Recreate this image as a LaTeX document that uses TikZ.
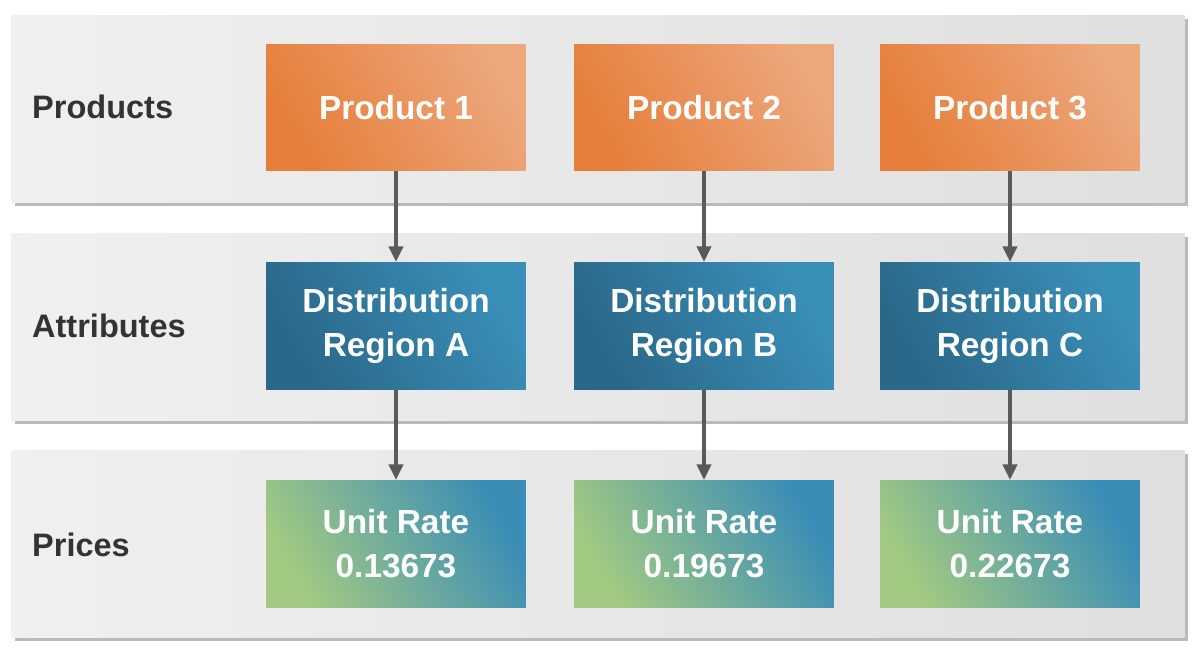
\documentclass[tikz,border=0pt]{standalone}
\usepackage{fontspec}
\setmainfont{Liberation Sans}
\usetikzlibrary{positioning,arrows.meta,shadows}

\definecolor{txtgray}{HTML}{333333}
\definecolor{arrgray}{HTML}{5A5A5A}
\definecolor{orA}{HTML}{E67E3A}
\definecolor{orB}{HTML}{ECA77C}
\definecolor{blA}{HTML}{2A6788}
\definecolor{blB}{HTML}{3A8FB8}
\definecolor{grA}{HTML}{A3CA82}
\definecolor{grB}{HTML}{3A8DB6}

\begin{document}
\begin{tikzpicture}[x=0.02cm,y=-0.02cm,
  band/.style={draw=none,minimum width=23.46cm,minimum height=3.76cm,
    left color=gray!12,right color=gray!25,
    drop shadow={shadow xshift=2pt,shadow yshift=-2pt,fill=black!45,opacity=0.6}},
  rowlabel/.style={anchor=west,text=txtgray,font=\fontsize{18.5}{22}\selectfont\bfseries},
  box/.style={minimum width=5.2cm,minimum height=2.54cm,align=center,
    text=white,font=\fontsize{19}{25}\selectfont\bfseries},
  prod/.style={box,left color=orA,right color=orB,shading angle=120},
  attr/.style={box,left color=blA,right color=blB,shading angle=120},
  price/.style={box,left color=grA,right color=grB,shading angle=120},
  link/.style={-{Triangle[length=9pt,width=8pt]},line width=2.5pt,draw=arrgray}]
\useasboundingbox (0,0) rectangle (1198,652);
% bands
\node[band] (bandP) at (598,109) {};
\node[band] (bandA) at (598,327) {};
\node[band] (bandR) at (598,544) {};
% row labels
\node[rowlabel] (lblP) at (26,107) {Products};
\node[rowlabel] (lblA) at (26,326) {Attributes};
\node[rowlabel] (lblR) at (26,545) {Prices};
% boxes
\node[prod] (p1) at (396,107.5) {Product 1};
\node[prod] (p2) at (704,107.5) {Product 2};
\node[prod] (p3) at (1010,107.5) {Product 3};
\node[attr] (a1) at (396,326) {Distribution\\Region A};
\node[attr] (a2) at (704,326) {Distribution\\Region B};
\node[attr] (a3) at (1010,326) {Distribution\\Region C};
\node[price] (r1) at (396,544) {Unit Rate\\0.13673};
\node[price] (r2) at (704,544) {Unit Rate\\0.19673};
\node[price] (r3) at (1010,544) {Unit Rate\\0.22673};
% arrows
\foreach \i in {1,2,3} {
  \draw[link] (p\i) -- (a\i);
  \draw[link] (a\i) -- (r\i);
}
\end{tikzpicture}
\end{document}
